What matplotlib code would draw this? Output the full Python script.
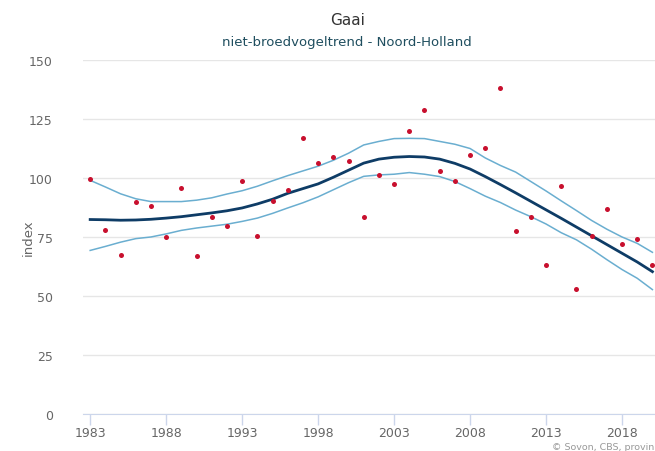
'''
Gaai - niet-broedvogeltrend Noord-Holland
'''

import matplotlib.pyplot as plt

years = list(range(1983, 2021))

# index per year (red dots)
index_values = [99.7, 78.0, 67.3, 89.7, 88.2, 75.1, 95.9, 66.9, 83.3, 79.5,
                98.7, 75.6, 90.1, 94.9, 116.9, 106.2, 108.8, 107.1, 83.4, 101.3,
                97.3, 120.1, 128.8, 103.1, 98.7, 109.9, 112.8, 138.3, 77.5, 83.4,
                63.0, 96.5, 52.8, 75.4, 86.7, 72.2, 74.2, 63.0]

# smoothed trend and its confidence band
trend = [82.4, 82.3, 82.1, 82.2, 82.5, 83.0, 83.6, 84.4, 85.2, 86.1,
         87.3, 89.0, 91.0, 93.5, 95.5, 97.5, 100.3, 103.3, 106.3, 108.0,
         108.8, 109.1, 108.9, 108.0, 106.2, 103.8, 100.6, 97.2, 93.7, 90.1,
         86.5, 82.9, 79.2, 75.5, 71.8, 68.1, 64.4, 60.3]
upper = [99.0, 96.2, 93.3, 91.2, 90.0, 90.0, 90.0, 90.6, 91.6, 93.2,
         94.6, 96.5, 98.8, 101.0, 103.0, 105.0, 107.5, 110.5, 114.0, 115.5,
         116.7, 116.8, 116.7, 115.5, 114.3, 112.5, 108.5, 105.3, 102.5, 98.5,
         94.5, 90.3, 86.2, 82.0, 78.3, 75.0, 72.3, 68.5]
lower = [69.3, 71.0, 72.8, 74.3, 75.0, 76.3, 77.8, 78.8, 79.6, 80.4,
         81.6, 83.0, 85.0, 87.3, 89.5, 92.0, 95.0, 98.0, 100.7, 101.3,
         101.6, 102.3, 101.6, 100.6, 98.5, 95.5, 92.3, 89.6, 86.4, 83.6,
         80.5, 76.8, 73.8, 69.8, 65.4, 61.2, 57.5, 52.7]

x_ticks = [1983, 1988, 1993, 1998, 2003, 2008, 2013, 2018]
y_ticks = [0, 25, 50, 75, 100, 125, 150]

plt.rcParams['font.family'] = ['DejaVu Sans']

fig = plt.figure(figsize=(6.55, 4.52), dpi=100)
ax = fig.add_axes([0.127, 0.082, 0.873, 0.783])

ax.plot(years, upper, color="#6aaed0", linewidth=1.1, zorder=2)
ax.plot(years, lower, color="#6aaed0", linewidth=1.1, zorder=2)
ax.plot(years, trend, color="#0e3c66", linewidth=2.0, zorder=3)
ax.scatter(years, index_values, color="#c8102e", s=13, zorder=4, linewidths=0)

ax.set_xlim(1982.54, 2020.17)
ax.set_ylim(0, 150)
ax.set_xticks(x_ticks)
ax.set_yticks(y_ticks)
ax.grid(axis="y", color="#e6e6e6", linewidth=1)
ax.set_axisbelow(True)

for side in ["top", "right", "left"]:
    ax.spines[side].set_visible(False)
ax.spines["bottom"].set_color("#ccd6eb")
ax.tick_params(axis="x", colors="#ccd6eb", length=8, width=1, labelcolor="#666666",
               labelsize=9, pad=1)
ax.tick_params(axis="y", length=0, labelcolor="#666666", labelsize=9, pad=22)

ax.set_ylabel("index", color="#666666", fontsize=9.5, labelpad=-4)

fig.text(0.53, 0.955, "Gaai", ha="center", va="center", fontsize=11, color="#333333")
fig.text(0.53, 0.907, "niet-broedvogeltrend - Noord-Holland", ha="center", va="center",
         fontsize=9.5, color="#1f4e5f")
fig.text(0.999, 0.0, "© Sovon, CBS, provin", ha="right", va="bottom",
         fontsize=6.8, color="#999999")

plt.savefig("out.png", dpi=100)
